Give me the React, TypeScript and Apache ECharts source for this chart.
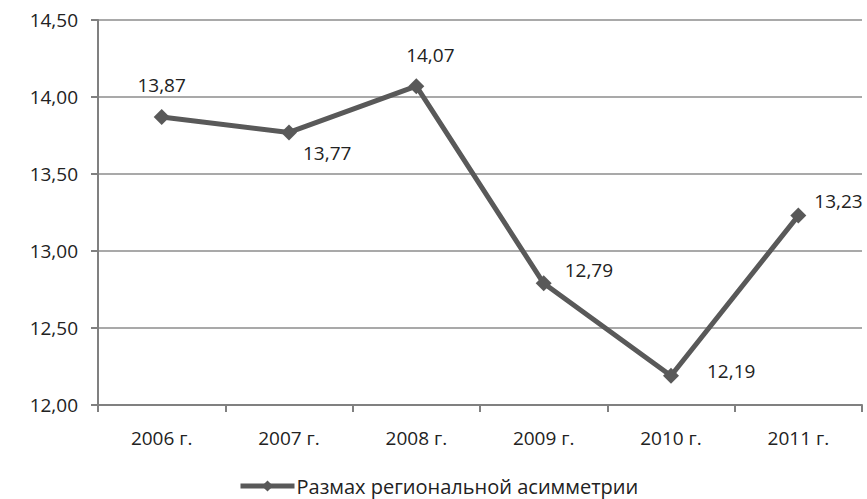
import React, { useEffect, useRef } from "react";
import * as echarts from "echarts";

const categories = ["2006 г.", "2007 г.", "2008 г.", "2009 г.", "2010 г.", "2011 г."];
const values = [13.87, 13.77, 14.07, 12.79, 12.19, 13.23];
const seriesName = "Размах региональной асимметрии";
const labelPlacement: any[] = [
  { position: "top", distance: 15, offset: [0, 0] },
  { position: "right", distance: 6, offset: [0, 21] },
  { position: "top", distance: 14, offset: [14, 0] },
  { position: "right", distance: 13, offset: [0, -13] },
  { position: "right", distance: 28, offset: [0, -5] },
  { position: "right", distance: 8, offset: [0, -15] },
];

const fmt = (v: number) => v.toFixed(2).replace(".", ",");
const FONT = "'Open Sans', 'Noto Sans', sans-serif";
const TXT = "#222222";
const FS = 19;

export default function App() {
  const ref = useRef<HTMLDivElement>(null);
  useEffect(() => {
    if (!ref.current) return;
    const chart = echarts.init(ref.current, undefined, { renderer: "svg" });
    chart.setOption({
      animation: false,
      backgroundColor: "#ffffff",
      textStyle: { fontFamily: FONT },
      grid: { left: 98, right: 5, top: 20, bottom: 94, containLabel: false },
      legend: {
        top: 476,
        left: 238,
        padding: 0,
        itemWidth: 54,
        itemHeight: 14,
        itemGap: 0,
        lineStyle: { width: 5, color: "#595959" },
        textStyle: { fontFamily: FONT, fontSize: 20, color: TXT, padding: [0, 0, 0, -3] },
        data: [seriesName],
      },
      xAxis: {
        type: "category",
        data: categories,
        boundaryGap: true,
        axisLine: { lineStyle: { color: "#808080", width: 2 } },
        axisTick: { show: true, length: 7, lineStyle: { color: "#808080", width: 2 } },
        axisLabel: { fontFamily: FONT, fontSize: FS, color: TXT, margin: 23 },
      },
      yAxis: {
        type: "value",
        min: 12,
        max: 14.5,
        interval: 0.5,
        axisLine: { show: true, lineStyle: { color: "#808080", width: 2 } },
        axisTick: { show: true, length: 7, lineStyle: { color: "#808080", width: 2 } },
        splitLine: { lineStyle: { color: "#8c8c8c", width: 1.5 } },
        axisLabel: {
          fontFamily: FONT,
          fontSize: FS,
          color: TXT,
          margin: 20,
          formatter: (v: number) => fmt(v),
        },
      },
      series: [
        {
          name: seriesName,
          type: "line",
          data: values.map((v, i) => ({
            value: v,
            label: { ...labelPlacement[i] },
          })),
          symbol: "diamond",
          symbolSize: 16,
          lineStyle: { color: "#595959", width: 5 },
          itemStyle: { color: "#595959" },
          label: {
            show: true,
            fontFamily: FONT,
            fontSize: FS,
            color: TXT,
            formatter: (p: any) => fmt(p.value),
          },
        },
      ],
    });
    return () => chart.dispose();
  }, []);
  return (
    <div
      ref={ref}
      style={{ position: "fixed", left: 0, top: 0, width: 867, height: 499 }}
    />
  );
}
